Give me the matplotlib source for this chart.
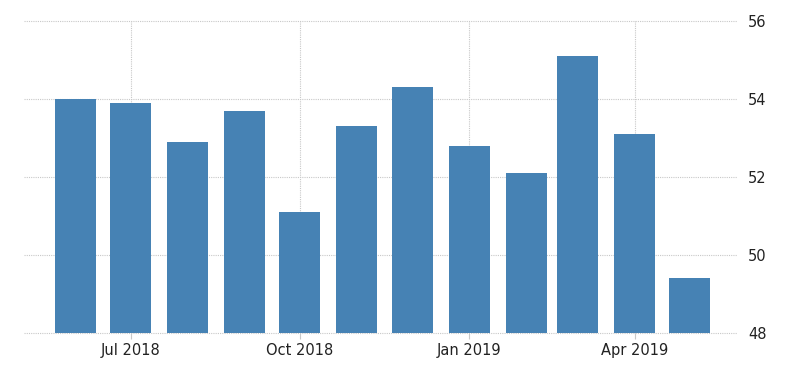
import matplotlib
matplotlib.use("Agg")
import matplotlib.pyplot as plt
import matplotlib.dates as mdates
import numpy as np
import pandas as pd

# Monthly values
months = ["2018-06", "2018-07", "2018-08", "2018-09", "2018-10", "2018-11",
          "2018-12", "2019-01", "2019-02", "2019-03", "2019-04", "2019-05"]
values = [54.0, 53.9, 52.9, 53.7, 51.1, 53.3, 54.3, 52.8, 52.1, 55.1, 53.1, 49.4]

tick_dates = ["2018-07", "2018-10", "2019-01", "2019-04"]
tick_labels = ["Jul 2018", "Oct 2018", "Jan 2019", "Apr 2019"]
y_ticks = [48, 50, 52, 54, 56]

dates = mdates.date2num(pd.to_datetime(months).to_pydatetime())
ticks = mdates.date2num(pd.to_datetime(tick_dates).to_pydatetime())

fig = plt.figure(figsize=(8, 3.73), dpi=100)
ax = fig.add_axes([0.03, 0.107, 0.891, 0.837])

ax.bar(dates, np.array(values) - 48, bottom=48, width=22.3, color="#4682b4", zorder=2)

ax.set_ylim(48, 56)
ax.set_xlim(dates[0] - 28, dates[-1] + 25.5)
ax.set_yticks(y_ticks)
ax.set_xticks(ticks)
ax.set_xticklabels(tick_labels)

ax.yaxis.tick_right()
ax.grid(True, color="#c8c8c8", linestyle=(0, (1, 1)), linewidth=0.8, zorder=0)
for line in ax.get_ygridlines() + ax.get_xgridlines():
    line.set_clip_on(False)
for s in ax.spines.values():
    s.set_visible(False)

ax.tick_params(axis="y", length=0, pad=8, labelsize=10.5, labelcolor="#222222")
ax.tick_params(axis="x", length=4, color="#c8c8c8", pad=3, labelsize=10.5, labelcolor="#222222")

fig.savefig("out.png", dpi=100)
